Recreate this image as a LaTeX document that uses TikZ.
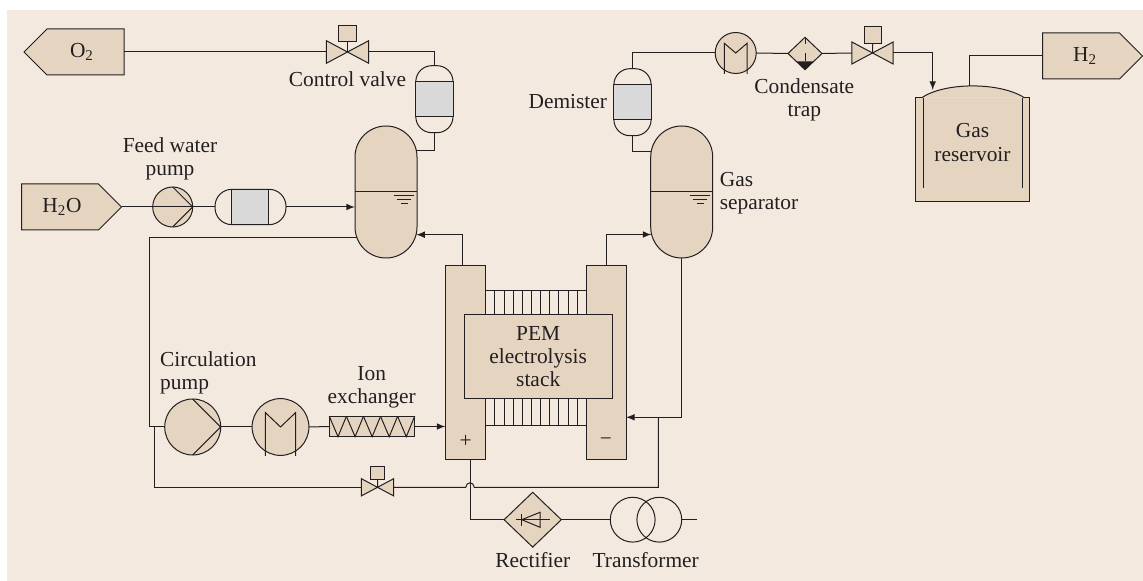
\documentclass[tikz,border=0pt]{standalone}
\usepackage{fontspec}
\setmainfont{Liberation Serif}
\usepackage{tikz}
\definecolor{paper}{RGB}{243,233,223}
\definecolor{tan}{RGB}{229,213,192}
\definecolor{filling}{RGB}{217,217,217}
\definecolor{pipe}{RGB}{35,31,32}
\usetikzlibrary{shapes,arrows}

\begin{document}
\begin{tikzpicture}[x=0.5pt, y=-0.5pt, >=latex, color=pipe, line width=0.5pt,
				font=\fontsize{10.7}{11.6}\selectfont,
				part/.style={draw=pipe, fill=tan, inner sep=0pt, outer sep=0pt},
				tagbox/.style={part, signal, signal pointer angle=90, minimum width=50pt, minimum height=23pt},
				vessel/.style={part, minimum width=31pt, minimum height=66pt, rounded corners=15.5pt},
				demist/.style={part, fill=none, minimum width=18.6pt, minimum height=33.5pt, rounded corners=8pt},
				band/.style={part, fill=filling},
				disc/.style={part, circle},
				valve/.style={inner sep=0pt, outer sep=0pt, minimum width=#1, minimum height=0.533*#1},
				txt/.style={align=center, inner sep=0pt, text=pipe}]
				%Hintergrund
				\useasboundingbox (0,0) rectangle (1143,581);
				\fill[paper] (7,10) rectangle (1143,581);
				%Ein- und Ausgaenge
				\node[tagbox, signal to=west] (tagO) at (85.5,52) {\hspace*{-3.5pt}O\textsubscript{2}};
				\node[tagbox, signal to=east] (tagW) at (60,207) {\hspace*{2pt}H\textsubscript{2}O};
				\node[tagbox, signal to=east] (tagH) at (1081,56) {\hspace*{4pt}H\textsubscript{2}};
				%Gasabscheider
				\node[vessel] (sepO) at (386,192) {};
				\node[vessel] (sepH) at (681.7,192) {};
				\foreach \s in {sepO,sepH} {
					\draw (\s.west) -- (\s.east);
					\foreach \a/\b/\d in {8/28/4,11/25/8,15/22/12}
						\draw ([shift={(\a,\d)}]\s.center) -- ([shift={(\b,\d)}]\s.center);
				}
				%Demister und Filter
				\node[demist] (demO) at (434.4,99.2) {};
				\node[band, minimum width=18.6pt, minimum height=17.5pt] (bandO) at (434.4,99.2) {};
				\node[demist] (demH) at (632.5,102.2) {};
				\node[band, minimum width=18.6pt, minimum height=17.5pt] (bandH) at (632.5,102.5) {};
				\node[part, fill=none, minimum width=35.5pt, minimum height=17.7pt, rounded corners=8.5pt] (filtW) at (250.5,207) {};
				\node[band, minimum width=18.5pt, minimum height=17.7pt] (bandW) at (250.2,207) {};
				%Ventile
				\node[valve=21.2pt] (valveO) at (347.5,52) {};
				\node[valve=20.6pt] (valveH) at (872.5,53) {};
				\node[valve=16.2pt] (valveC) at (377.5,487.3) {};
				\foreach \v in {valveO,valveH,valveC}
					\draw[part] (\v.north west) -- (\v.south east) -- (\v.north east) -- (\v.south west) -- cycle;
				\node[part, minimum width=8.8pt, minimum height=8pt] (actO) at (347.5,33.3) {};
				\node[part, minimum width=8.7pt, minimum height=8.3pt] (actH) at (873,35) {};
				\node[part, minimum width=7pt, minimum height=6.4pt] (actC) at (377.7,473.3) {};
				\draw (actO) -- (valveO.center);
				\draw (actH) -- (valveH.center);
				\draw (actC) -- (valveC.center);
				%Pumpen
				\node[disc, minimum size=20pt] (pumpW) at (172.7,207) {};
				\draw (pumpW.north) -- (pumpW.east) -- (pumpW.south);
				\node[disc, minimum size=28pt] (pumpC) at (192.7,427) {};
				\draw (pumpC.north) -- (pumpC.east) -- (pumpC.south);
				%Kuehler
				\node[disc, minimum size=20.5pt] (coolH) at (735.7,53) {};
				\draw ([shift={(-11.4,21)}]coolH.center) -- ++(0,-30.7) -- (coolH.center) -- ([shift={(11.4,-9.7)}]coolH.center) -- ++(0,30.7);
				\node[disc, minimum size=28.4pt] (coolC) at (280.5,427) {};
				\draw ([shift={(-15.2,29)}]coolC.center) -- ++(0,-43.5) -- (coolC.center) -- ([shift={(15.2,-14.5)}]coolC.center) -- ++(0,43.5);
				%Kondensatabscheider
				\node[part, diamond, minimum width=17pt, minimum height=16.2pt] (trap) at (805,53.5) {};
				\fill[pipe] (796.5,61.5) -- (813.5,61.5) -- (trap.south) -- cycle;
				\draw (trap.north) -- ++(0,7);
				\draw (805,53.5) -- ++(0,8);
				%Ionentauscher
				\node[part, minimum width=42.7pt, minimum height=10.2pt] (ion) at (372,426.5) {};
				\foreach \i in {0,...,4}
					\draw ({329.3+17.07*\i},416.3) -- ({338+17.07*\i},436.7) -- ({346.4+17.07*\i},416.3);
				%Stack
				\node[draw=pipe, inner sep=0pt, minimum width=50.3pt, minimum height=67.5pt] (comb) at (536,358.5) {};
				\foreach \i in {1,...,10} {
					\draw ({485.7+9.15*\i},291) -- ({485.7+9.15*\i},314);
					\draw ({485.7+9.15*\i},398.7) -- ({485.7+9.15*\i},426);
				}
				\node[part, minimum width=20pt, minimum height=97pt] (plateO) at (465.7,363) {};
				\node[part, minimum width=20pt, minimum height=97pt] (plateH) at (606.2,363) {};
				\node[part, txt, minimum width=73.8pt, minimum height=42.2pt] (stack) at (538.2,356.5) {PEM\\electrolysis\\stack};
				\node[txt] (plus) at (465.7,441) {+};
				\node[txt] (minus) at (606,442) {−};
				%Speicher
				\node[inner sep=0pt, fill=tan, minimum width=56.5pt, minimum height=51.8pt] (tank) at (972.8,149.5) {};
				\filldraw[fill=tan] (921.7,97.7) .. controls (945,82) and (1000,82) .. (1024.3,97.7);
				\draw (tank.north west) -- (tank.south west) -- (tank.south east) -- (tank.north east) -- ++(-7,0);
				\draw (tank.north west) -- ++(7,0);
				\draw (923.3,97.7) -- (923.3,188.3);
				\draw (1022,97.7) -- (1022,188.3);
				\node[txt] (tanktext) at (972.5,142.5) {Gas\\reservoir};
				%Transformator und Gleichrichter
				\node[part, diamond, minimum width=28.6pt, minimum height=27.4pt] (rect) at (532.7,519.7) {};
				\draw (516,519.7) -- (550,519.7);
				\draw (521.7,514) -- (521.7,526);
				\draw (521.7,519.7) -- (540,512.3) -- (540,527.3) -- cycle;
				\node[draw=pipe, circle, inner sep=0pt, minimum size=22.4pt] (trafoA) at (632.7,519.7) {};
				\node[draw=pipe, circle, inner sep=0pt, minimum size=22.4pt] (trafoB) at (659.3,519.7) {};
				%Anschluesse
				\coordinate (demOout) at (434.4,151);
				\coordinate (sepOtop) at (416.5,151);
				\coordinate (demHout) at (632.5,152);
				\coordinate (sepHtop) at (651,152);
				\coordinate (cornerO) at (434.4,52);
				\coordinate (cornerH) at (632.5,53);
				\coordinate (cornerT) at (932.7,53);
				\coordinate (tankIn) at (932.7,90);
				\coordinate (tankOut) at (969.3,86.2);
				\coordinate (sepOin) at (416.2,234.7);
				\coordinate (sepHin) at (651.5,234.5);
				\coordinate (plateOtop) at (462.5,266);
				\coordinate (plateHtop) at (606,266);
				\coordinate (sepOout) at (356.8,237.3);
				\coordinate (circIn) at (149.3,427);
				\coordinate (branchC) at (154,427);
				\coordinate (plateOin) at (445.5,426.5);
				\coordinate (plateHin) at (626,417.3);
				\coordinate (branchH) at (658.3,417.3);
				\coordinate (hopA) at (465.7,487.3);
				\coordinate (hopB) at (474.3,487.3);
				\coordinate (plateOout) at (470,460);
				\coordinate (mains) at (696.7,519.7);
				%Leitungen
				\draw (tagO.east) -- (valveO.west);
				\draw (valveO.east) -- (cornerO) -- (demO.north);
				\draw (demO.south) -- (demOout) -- (sepOtop);
				\draw (demH.south) -- (demHout) -- (sepHtop);
				\draw (demH.north) -- (cornerH) -- (coolH.west);
				\draw (coolH.east) -- (trap.west);
				\draw (trap.east) -- (valveH.west);
				\draw[->] (valveH.east) -- (cornerT) -- (tankIn);
				\draw (tagH.west) -| (tankOut);
				\draw (tagW.east) -- (filtW.west);
				\draw[->] (filtW.east) -- (filtW.east -| sepO.west);
				\draw[->] (plateOtop) |- (sepOin);
				\draw[->] (plateHtop) |- (sepHin);
				\draw[->] (sepH.south) |- (plateHin);
				\draw (sepOout) -| (circIn) -- (pumpC.west);
				\draw (pumpC.east) -- (coolC.west);
				\draw (coolC.east) -- (ion.west);
				\draw[->] (ion.east) -- (plateOin);
				\draw (branchC) |- (valveC.west);
				\draw (valveC.east) -- (hopA) .. controls (466.5,481.3) and (473.5,481.3) .. (hopB) -| (branchH);
				\draw (plateOout) |- (rect.west);
				\draw (rect.east) -- (trafoA.west);
				\draw (trafoB.east) -- (mains);
				%Beschriftung
				\node[txt] (lblvalve) at (347.5,79.5) {Control valve};
				\node[txt] (lblfeed) at (170,158.5) {Feed water\\pump};
				\node[txt] (lbldemist) at (567.8,102) {Demister};
				\node[txt] (lbltrap) at (804.3,100) {Condensate\\trap};
				\node[txt, align=left, anchor=west] (lblsep) at (719.3,193.5) {Gas\\separator};
				\node[txt, align=left, anchor=west] (lblcirc) at (159.7,372.5) {Circulation\\pump};
				\node[txt] (lblion) at (371.7,387.5) {Ion\\exchanger};
				\node[txt] (lblrect) at (532.7,560) {Rectifier};
				\node[txt] (lbltrafo) at (645.7,560) {Transformer};
			\end{tikzpicture}
\end{document}
